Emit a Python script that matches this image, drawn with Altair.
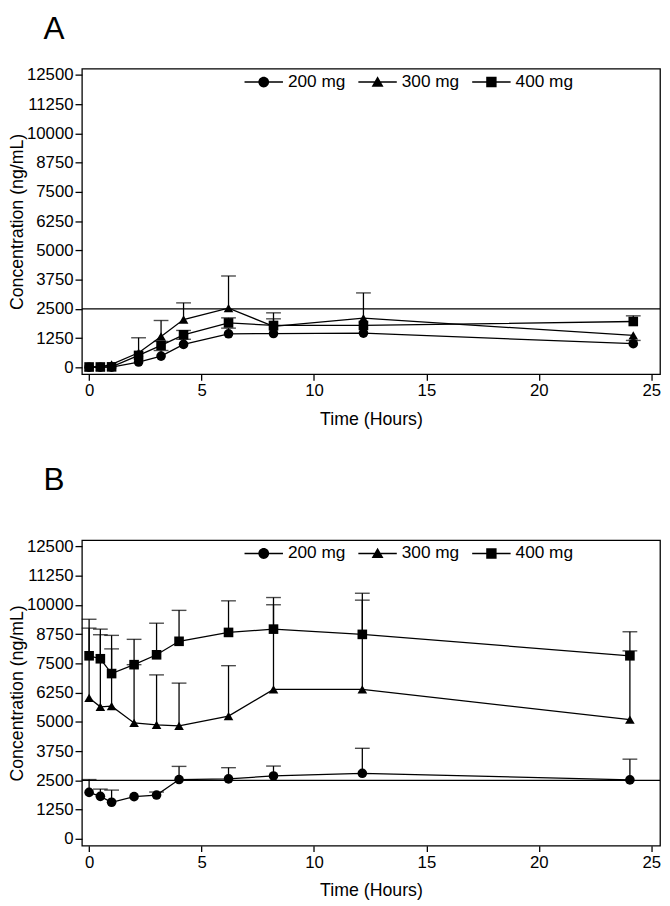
import altair as alt
import pandas as pd

FONT = "Liberation Sans"
doses = ["200 mg", "300 mg", "400 mg"]

# Panel A
times_A = [0, 0.5, 1, 2.2, 3.2, 4.2, 6.2, 8.2, 12.2, 24.2]
A_200 = [5, 5, 10, 225, 480, 980, 1435, 1445, 1465, 1010]
A_200_up = [None, None, None, None, 720, 1200, 1676, None, None, 1150]
A_300 = [10, 20, 130, 625, 1320, 2045, 2530, 1750, 2100, 1365]
A_300_up = [None, None, None, 1264, 2003, 2756, 3906, 2330, 3182, None]
A_400 = [15, 15, 20, 510, 940, 1390, 1900, 1790, 1790, 1960]
A_400_up = [None, None, None, None, 1108, 1577, 2116, 2074, None, 2202]

# Panel B
times_B = [0, 0.5, 1, 2, 3, 4, 6.2, 8.2, 12.15, 24.05]
B_200 = [1985, 1816, 1563, 1802, 1872, 2534, 2562, 2689, 2801, 2520]
B_200_up = [2534, 2125, 2083, None, 2000, 3097, 3041, 3111, 3871, 3406]
B_300 = [6025, 5645, 5673, 4955, 4870, 4828, 5250, 6391, 6391, 5096]
B_300_up = [9009, 8727, 8122, 7447, 7010, 6658, 7404, 10009, 10206, 8038]
B_400 = [7827, 7700, 7066, 7447, 7869, 8446, 8826, 8967, 8742, 7827]
B_400_up = [9389, 8967, 8700, 8530, 9220, 9769, 10177, 10318, 10501, 8854]

reference_level = [2500]
x_ticks = [0, 5, 10, 15, 20, 25]
y_ticks = [0, 1250, 2500, 3750, 5000, 6250, 7500, 8750, 10000, 11250, 12500]

marker_shapes = ["circle", "triangle-up", "square"]
LINE = "M-1,-0.035H1V0.035H-1Z"
legend_shapes = [
    LINE + "M0.28,0A0.28,0.28,0,1,1,-0.28,0A0.28,0.28,0,1,1,0.28,0Z",
    LINE + "M0,-0.3L0.31,0.24L-0.31,0.24Z",
    LINE + "M-0.27,-0.27H0.27V0.27H-0.27Z",
]


def make_df(times, means, uppers):
    rows = []
    for dose, m, u in zip(doses, means, uppers):
        for t, mv, uv in zip(times, m, u):
            rows.append({"time": t, "dose": dose, "mean": mv, "upper": uv})
    return pd.DataFrame(rows)


x_scale = alt.Scale(domain=[-0.32, 25.39], nice=False, zero=False)
y_scale = alt.Scale(domain=[-295, 12770], nice=False, zero=False)
YT = "Concentration (ng/mL)"
XT = "Time (Hours)"
x_axis = alt.Axis(values=x_ticks, labelFlush=False)
y_axis = alt.Axis(values=y_ticks, format="d", labelFlush=False)


def panel(df, label, offset):
    base = alt.Chart(df)
    X = alt.X("time:Q", scale=x_scale, axis=x_axis, title=XT)
    Y = alt.Y("mean:Q", scale=y_scale, axis=y_axis, title=YT)

    ref = alt.Chart(pd.DataFrame({"ref": reference_level})).mark_rule(
        color="black", strokeWidth=1.3
    ).encode(y=alt.Y("ref:Q", scale=y_scale, axis=y_axis, title=YT))

    err = base.transform_filter("isValid(datum.upper)").mark_rule(
        color="black", strokeWidth=1.3
    ).encode(x=X, y=Y, y2="upper:Q")

    cap = base.transform_filter("isValid(datum.upper)").mark_tick(
        orient="horizontal", color="black", size=15, thickness=1.4
    ).encode(x=X, y=alt.Y("upper:Q", scale=y_scale, axis=y_axis, title=YT))

    line = base.mark_line(color="black", strokeWidth=1.3).encode(
        x=X, y=Y, detail="dose:N"
    )

    pts = base.mark_point(filled=True, color="black", opacity=1, size=95).encode(
        x=X, y=Y,
        shape=alt.Shape("dose:N", scale=alt.Scale(domain=doses, range=marker_shapes), legend=None),
    )

    leg = base.mark_point(filled=True, color="black", opacity=0, size=1521).encode(
        x=X, y=Y,
        shape=alt.Shape(
            "dose:N",
            scale=alt.Scale(domain=doses, range=legend_shapes),
            legend=alt.Legend(
                title=None, orient="none", legendX=165, legendY=-6,
                direction="horizontal", symbolSize=1521, labelOffset=5,
                columnPadding=12.5, padding=0, labelFontSize=17.5, labelFont=FONT,
                labelColor="black", symbolStrokeWidth=0,
            ),
        ),
    )

    return alt.layer(ref, err, cap, line, pts, leg).resolve_scale(
        shape="independent"
    ).properties(
        width=586.6, height=310,
        title=alt.TitleParams(
            text=label, anchor="start", fontSize=32, fontWeight="normal", font=FONT,
            color="black", dx=-39, offset=offset, frame="group", baseline="alphabetic",
        ),
    )


pA = panel(make_df(times_A, [A_200, A_300, A_400], [A_200_up, A_300_up, A_400_up]), "A", -7.8)
pB = panel(make_df(times_B, [B_200, B_300, B_400], [B_200_up, B_300_up, B_400_up]), "B", 13.2)

chart = alt.vconcat(pA, pB, spacing=34.4).resolve_scale(shape="independent").properties(
    padding={"left": 0, "top": -2, "right": 0, "bottom": 0}
).configure_view(
    stroke="black", strokeWidth=1.3
).configure_axis(
    domain=False, grid=False, tickColor="black", tickWidth=1.3,
    labelColor="black", titleColor="black", labelFont=FONT, titleFont=FONT,
    labelFontSize=17, titleFontSize=18, titleFontWeight="normal",
).configure_axisX(
    tickSize=6, labelPadding=3, titlePadding=12
).configure_axisY(
    tickSize=7, labelPadding=2, titlePadding=0
)

chart.save("out.html", embed_options={"renderer": "svg", "actions": False})
